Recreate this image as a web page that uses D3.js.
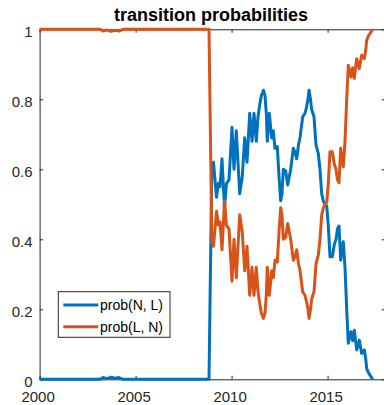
<!DOCTYPE html>
<html>
<head>
<meta charset="utf-8">
<script src="https://cdn.jsdelivr.net/npm/d3@7/dist/d3.min.js"></script>
<style>
  html, body { margin: 0; padding: 0; background: #fff; }
  svg { display: block; font-family: "Liberation Sans", Arial, Helvetica, sans-serif; }
</style>
</head>
<body>
<svg id="chart" width="384" height="405"></svg>
<script>
// Time axis (decimal years) for the two transition probabilities
const years = [
  2000.000, 2003.146, 2003.302, 2003.510, 2003.719, 2003.927, 2004.135, 2004.344,
  2008.823, 2008.969, 2009.057, 2009.214, 2009.318, 2009.396, 2009.500, 2009.630, 2009.734, 2009.865,
  2010.021, 2010.125, 2010.245, 2010.333, 2010.422, 2010.557, 2010.682, 2010.802, 2010.943,
  2011.063, 2011.167, 2011.286, 2011.375, 2011.453, 2011.547, 2011.661, 2011.740, 2011.807, 2011.859, 2011.964,
  2012.089, 2012.172, 2012.260, 2012.380, 2012.469, 2012.557, 2012.625, 2012.693, 2012.818, 2012.922,
  2013.078, 2013.214, 2013.302, 2013.391, 2013.484, 2013.563, 2013.703, 2013.823, 2013.911, 2013.979,
  2014.031, 2014.109, 2014.172, 2014.292, 2014.396, 2014.516, 2014.604, 2014.693, 2014.776, 2014.865, 2014.953,
  2015.036, 2015.125, 2015.245, 2015.349, 2015.438, 2015.516, 2015.594, 2015.682, 2015.750, 2015.818, 2015.906, 2015.995,
  2016.078, 2016.219, 2016.307, 2016.391, 2016.516, 2016.651, 2016.776, 2016.911, 2016.984,
  2017.036, 2017.120, 2017.208, 2017.349
];

// prob(N,L)
const probNL = [
  0, 0, 0.005, 0.002, 0.006, 0.003, 0.005, 0,
  0, 0.60, 0.62, 0.52, 0.56, 0.55, 0.63, 0.49, 0.56, 0.57,
  0.72, 0.60, 0.71, 0.62, 0.53, 0.58, 0.69, 0.62, 0.76,
  0.68, 0.76, 0.68, 0.75, 0.78, 0.81, 0.826, 0.81, 0.76, 0.68, 0.76,
  0.69, 0.71, 0.66, 0.665, 0.58, 0.51, 0.53, 0.60, 0.595, 0.555,
  0.60, 0.66, 0.65, 0.63, 0.67, 0.69, 0.75, 0.76, 0.78, 0.80,
  0.826, 0.80, 0.77, 0.75, 0.67, 0.645, 0.60, 0.53, 0.51, 0.50, 0.495,
  0.44, 0.35, 0.35, 0.385, 0.40, 0.43, 0.438, 0.34, 0.37, 0.393, 0.32, 0.20,
  0.103, 0.136, 0.11, 0.14, 0.084, 0.112, 0.074, 0.084, 0.06,
  0.031, 0.02, 0.012, 0
];

// prob(L,N)
const probLN = [
  1, 1, 0.995, 0.998, 0.994, 0.997, 0.995, 1,
  1, 0.40, 0.38, 0.48, 0.44, 0.45, 0.37, 0.51, 0.44, 0.43,
  0.28, 0.40, 0.29, 0.38, 0.47, 0.42, 0.31, 0.38, 0.24,
  0.32, 0.24, 0.32, 0.25, 0.22, 0.19, 0.174, 0.19, 0.24, 0.32, 0.24,
  0.31, 0.29, 0.34, 0.335, 0.42, 0.49, 0.47, 0.40, 0.405, 0.445,
  0.40, 0.34, 0.35, 0.37, 0.33, 0.31, 0.25, 0.24, 0.22, 0.20,
  0.174, 0.20, 0.23, 0.25, 0.33, 0.355, 0.40, 0.47, 0.49, 0.50, 0.505,
  0.56, 0.65, 0.65, 0.615, 0.60, 0.57, 0.562, 0.66, 0.63, 0.607, 0.68, 0.80,
  0.897, 0.864, 0.89, 0.86, 0.916, 0.888, 0.926, 0.916, 0.94,
  0.969, 0.98, 0.988, 1
];

const seriesNames = ["prob(N, L)", "prob(L, N)"];
const seriesColors = ["#0072BD", "#D95319"];
const xTicks = [2000, 2005, 2010, 2015];
const yTicks = [0, 0.2, 0.4, 0.6, 0.8, 1];
const xDomain = [2000, 2018];
const yDomain = [0, 1];
const titleText = "transition probabilities";

const svg = d3.select("#chart");
const plotLeft = 39.6, plotTop = 29.3, plotBottom = 379.3;
const plotRight = plotLeft + 19.2 * (xDomain[1] - xDomain[0]);
const axisColor = "#262626";
const tickLen = 3.5;

const x = d3.scaleLinear().domain(xDomain).range([plotLeft, plotRight]);
const y = d3.scaleLinear().domain(yDomain).range([plotBottom, plotTop]);

function styleAxis(g) {
  g.select(".domain").attr("stroke", axisColor).attr("stroke-width", 1);
  g.selectAll(".tick line").attr("stroke", axisColor).attr("stroke-width", 1);
  g.selectAll(".tick text").attr("fill", axisColor).style("font-size", "15px");
}

// bottom axis with labels
svg.append("g")
  .attr("transform", `translate(0,${plotBottom})`)
  .call(d3.axisBottom(x).tickValues(xTicks).tickFormat(d3.format("d"))
    .tickSizeInner(-tickLen).tickSizeOuter(0).tickPadding(12.5))
  .call(styleAxis)
  .call(g => g.selectAll(".tick text").attr("x", -2));

// top axis (box)
svg.append("g")
  .attr("transform", `translate(0,${plotTop})`)
  .call(d3.axisTop(x).tickValues(xTicks).tickFormat("")
    .tickSizeInner(-tickLen).tickSizeOuter(0))
  .call(styleAxis);

// left axis with labels
svg.append("g")
  .attr("transform", `translate(${plotLeft},0)`)
  .call(d3.axisLeft(y).tickValues(yTicks).tickFormat(d => String(+d.toFixed(1)))
    .tickSizeInner(-tickLen).tickSizeOuter(0).tickPadding(7))
  .call(styleAxis)
  .call(g => g.selectAll(".tick text").attr("dy", "0.46em"));

// right axis (box)
svg.append("g")
  .attr("transform", `translate(${plotRight},0)`)
  .call(d3.axisRight(y).tickValues(yTicks).tickFormat("")
    .tickSizeInner(-tickLen).tickSizeOuter(0))
  .call(styleAxis);

// series lines
const series = [probNL, probLN];
const line = d3.line().x(d => x(d[0])).y(d => y(d[1]));
series.forEach((vals, i) => {
  const pts = years.map((yr, k) => [yr, vals[k]]);
  svg.append("path")
    .datum(pts)
    .attr("d", line)
    .attr("fill", "none")
    .attr("stroke", seriesColors[i])
    .attr("stroke-width", 3)
    .attr("stroke-linejoin", "round")
    .attr("stroke-linecap", "butt");
});

// title
svg.append("text")
  .attr("x", 211)
  .attr("y", 20.5)
  .attr("text-anchor", "middle")
  .style("font-size", "18px")
  .style("font-weight", "bold")
  .attr("fill", "#000")
  .text(titleText);

// legend
const legend = svg.append("g");
legend.append("rect")
  .attr("x", 58.3).attr("y", 291.7)
  .attr("width", 111.7).attr("height", 45.6)
  .attr("fill", "#fff")
  .attr("stroke", axisColor)
  .attr("stroke-width", 1);
seriesNames.forEach((name, i) => {
  const ly = 305 + i * 21.7;
  legend.append("line")
    .attr("x1", 63.3).attr("x2", 98.3)
    .attr("y1", ly).attr("y2", ly)
    .attr("stroke", seriesColors[i])
    .attr("stroke-width", 3);
  legend.append("text")
    .attr("x", 100).attr("y", ly + 5)
    .style("font-size", "14px")
    .attr("fill", "#000")
    .text(name);
});
</script>
</body>
</html>
